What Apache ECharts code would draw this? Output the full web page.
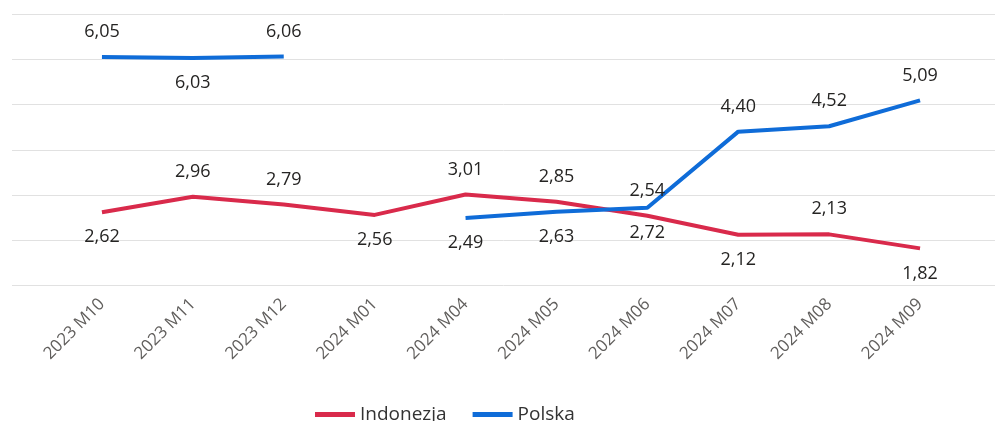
<!DOCTYPE html>
<html>
<head>
<meta charset="utf-8">
<script src="https://cdn.jsdelivr.net/npm/echarts@6/dist/echarts.min.js"></script>
<style>
  html, body { margin: 0; padding: 0; background: #fff; }
  #chart { width: 995px; height: 421px; }
</style>
</head>
<body>
<div id="chart"></div>
<script>
  var categories = ['2023 M10', '2023 M11', '2023 M12', '2024 M01', '2024 M04', '2024 M05', '2024 M06', '2024 M07', '2024 M08', '2024 M09']
  var indonezja = [2.62, 2.96, 2.79, 2.56, 3.01, 2.85, 2.54, 2.12, 2.13, 1.82]
  var polska = [6.05, 6.03, 6.06, null, 2.49, 2.63, 2.72, 4.40, 4.52, 5.09]
  // label side for each point (t = above, b = below)
  var indonezjaSide = ['b', 't', 't', 'b', 't', 't', 't', 'b', 't', 'b']
  var polskaSide = ['t', 'b', 't', '', 'b', 'b', 'b', 't', 't', 't']

  var font = '"Segoe UI", "Open Sans", sans-serif'
  var colors = ['#D92A4B', '#0F6CD8']

  function withLabels(values, sides) {
    return values.map(function (v, i) {
      if (v === null) return null
      var top = sides[i] === 't'
      return {
        value: v,
        label: { position: top ? 'top' : 'bottom', distance: top ? 16 : 16 }
      }
    })
  }

  var chart = echarts.init(document.getElementById('chart'))
  chart.setOption({
    color: colors,
    animation: false,
    grid: [
      { left: 56.5, right: 29.5, top: 14, bottom: 135.5 },
      { left: 12, right: 0, top: 14, bottom: 135.5 }
    ],
    legend: {
      data: ['Indonezja', 'Polska'],
      left: 310,
      top: 400,
      icon: 'rect',
      itemWidth: 40,
      itemHeight: 5,
      itemGap: 26,
      textStyle: { fontFamily: font, fontSize: 19, color: '#333333' }
    },
    xAxis: [
      {
        type: 'category',
        gridIndex: 0,
        data: categories,
        boundaryGap: true,
        axisLine: { show: false },
        axisTick: { show: false },
        axisLabel: {
          rotate: 45,
          margin: 16,
          interval: 0,
          fontFamily: font,
          fontSize: 17,
          color: '#605E5C'
        }
      },
      { type: 'value', gridIndex: 1, show: false }
    ],
    yAxis: [
      {
        type: 'value',
        gridIndex: 0,
        min: 1,
        max: 7,
        interval: 1,
        show: false
      },
      {
        type: 'value',
        gridIndex: 1,
        min: 1,
        max: 7,
        interval: 1,
        axisLabel: { show: false },
        axisLine: { show: false },
        axisTick: { show: false },
        splitLine: { lineStyle: { color: '#E1E1E1', width: 1 } }
      }
    ],
    series: [
      {
        name: 'Indonezja',
        type: 'line',
        xAxisIndex: 0,
        yAxisIndex: 0,
        symbol: 'circle',
        symbolSize: 0,
        lineStyle: { width: 4 },
        label: {
          show: true,
          fontFamily: font,
          fontSize: 18,
          color: '#252423',
          formatter: function (p) { return p.value.toFixed(2).replace('.', ',') }
        },
        data: withLabels(indonezja, indonezjaSide)
      },
      {
        name: 'Polska',
        type: 'line',
        xAxisIndex: 0,
        yAxisIndex: 0,
        symbol: 'circle',
        symbolSize: 0,
        connectNulls: false,
        lineStyle: { width: 4 },
        label: {
          show: true,
          fontFamily: font,
          fontSize: 18,
          color: '#252423',
          formatter: function (p) { return p.value.toFixed(2).replace('.', ',') }
        },
        data: withLabels(polska, polskaSide)
      }
    ]
  })
</script>
</body>
</html>
